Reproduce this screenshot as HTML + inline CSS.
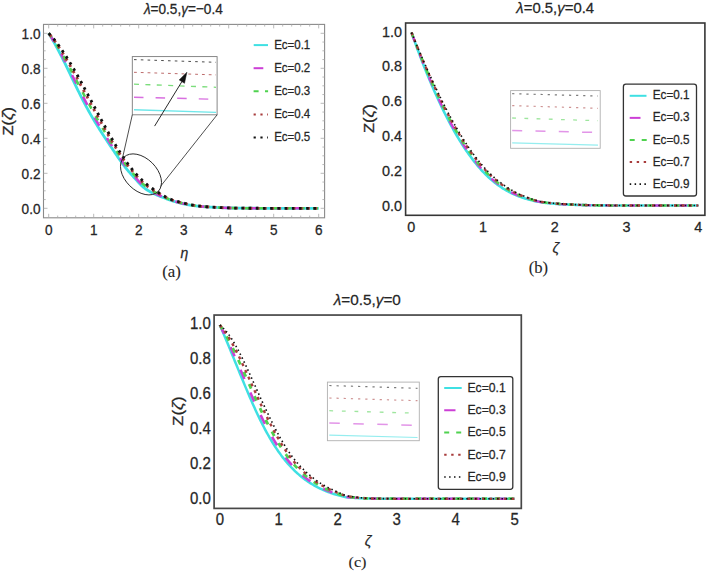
<!DOCTYPE html>
<html><head><meta charset="utf-8"><style>
text{stroke:#262626;stroke-width:0.25px;}
html,body{margin:0;padding:0;background:#fff;width:708px;height:571px;overflow:hidden;position:relative;font-family:"Liberation Sans", sans-serif;}
</style></head><body>
<svg width="708" height="571" viewBox="0 0 708 571" style="position:absolute;left:0;top:0" font-family="Liberation Sans, sans-serif" fill="#262626">
<path d="M48.7,33.3L49.42,34.47L50.14,35.65L50.86,36.85L51.58,38.07L52.3,39.3L53.02,40.56L53.73,41.82L54.45,43.11L55.17,44.41L55.89,45.72L56.61,47.05L57.33,48.39L58.05,49.74L58.77,51.1L59.49,52.49L60.21,53.88L60.93,55.29L61.65,56.7L62.36,58.13L63.08,59.56L63.8,61.01L64.52,62.46L65.24,63.93L65.96,65.41L66.68,66.9L67.4,68.39L68.12,69.88L68.84,71.38L69.56,72.88L70.28,74.38L70.99,75.87L71.71,77.36L72.43,78.86L73.15,80.36L73.87,81.86L74.59,83.36L75.31,84.86L76.03,86.36L76.75,87.85L77.47,89.33L78.19,90.79L78.91,92.24L79.62,93.69L80.34,95.13L81.06,96.56L81.78,97.99L82.5,99.41L83.22,100.82L83.94,102.21L84.66,103.59L85.38,104.96L86.1,106.3L86.82,107.63L87.54,108.95L88.25,110.25L88.97,111.54L89.69,112.82L90.41,114.09L91.13,115.34L91.85,116.59L92.57,117.83L93.29,119.06L94.01,120.27L94.73,121.48L95.45,122.69L96.17,123.88L96.88,125.06L97.6,126.23L98.32,127.38L99.04,128.53L99.76,129.67L100.48,130.8L101.2,131.93L101.92,133.05L102.64,134.17L103.36,135.28L104.08,136.4L104.8,137.5L105.52,138.61L106.23,139.7L106.95,140.79L107.67,141.88L108.39,142.97L109.11,144.05L109.83,145.12L110.55,146.2L111.27,147.27L111.99,148.34L112.71,149.41L113.43,150.49L114.15,151.56L114.86,152.63L115.58,153.7L116.3,154.76L117.02,155.82L117.74,156.88L118.46,157.93L119.18,158.96L119.9,160L120.62,161.01L121.34,162.02L122.06,163.03L122.78,164.02L123.49,165L124.21,165.96L124.93,166.89L125.65,167.8L126.37,168.69L127.09,169.56L127.81,170.42L128.53,171.28L129.25,172.12L129.97,172.95L130.69,173.77L131.41,174.58L132.12,175.38L132.84,176.17L133.56,176.96L134.28,177.74L135,178.52L135.72,179.3L136.44,180.1L137.16,180.89L137.88,181.69L138.6,182.47L139.32,183.25L140.04,184.01L140.75,184.75L141.47,185.47L142.19,186.15L142.91,186.81L143.63,187.42L144.35,187.99L145.07,188.52L145.79,189.03L146.51,189.52L147.23,189.99L147.95,190.44L148.67,190.87L149.38,191.29L150.1,191.7L150.82,192.09L151.54,192.48L152.26,192.85L152.98,193.21L153.7,193.57L154.42,193.91L155.14,194.25L155.86,194.58L156.58,194.9L157.3,195.21L158.02,195.51L158.73,195.8L159.45,196.09L160.17,196.37L160.89,196.65L161.61,196.92L162.33,197.2L163.05,197.47L163.77,197.74L164.49,198.01L165.21,198.28L165.93,198.56L166.65,198.83L167.36,199.1L168.08,199.37L168.8,199.64L169.52,199.9L170.24,200.16L170.96,200.41L171.68,200.66L172.4,200.89L173.12,201.12L173.84,201.34L174.56,201.55L175.28,201.76L175.99,201.96L176.71,202.16L177.43,202.36L178.15,202.56L178.87,202.75L179.59,202.94L180.31,203.12L181.03,203.31L181.75,203.48L182.47,203.66L183.19,203.83L183.91,203.99L184.62,204.14L185.34,204.3L186.06,204.44L186.78,204.58L187.5,204.71L188.22,204.83L188.94,204.95L189.66,205.06L190.38,205.17L191.1,205.27L191.82,205.38L192.54,205.48L193.25,205.58L193.97,205.67L194.69,205.76L195.41,205.86L196.13,205.94L196.85,206.03L197.57,206.11L198.29,206.19L199.01,206.27L199.73,206.35L200.45,206.42L201.17,206.49L201.88,206.56L202.6,206.62L203.32,206.68L204.04,206.74L204.76,206.8L205.48,206.85L206.2,206.9L210.7,207.19L220.52,207.69L230.34,207.98L240.15,208.15L249.97,208.24L259.79,208.28L269.61,208.3L279.43,208.3L289.25,208.3L299.06,208.3L308.88,208.3L318.7,208.3" fill="none" stroke="#3fe0e3" stroke-width="2.8" stroke-linejoin="round"/>
<path d="M48.7,33.3L49.42,34.37L50.14,35.45L50.86,36.55L51.58,37.66L52.3,38.8L53.02,39.95L53.73,41.11L54.45,42.3L55.17,43.49L55.89,44.71L56.61,45.94L57.33,47.18L58.05,48.44L58.77,49.71L59.49,51L60.21,52.3L60.93,53.61L61.65,54.93L62.36,56.26L63.08,57.6L63.8,58.95L64.52,60.32L65.24,61.69L65.96,63.08L66.68,64.48L67.4,65.89L68.12,67.3L68.84,68.72L69.56,70.14L70.28,71.56L70.99,72.98L71.71,74.4L72.43,75.82L73.15,77.25L73.87,78.69L74.59,80.13L75.31,81.57L76.03,83.01L76.75,84.44L77.47,85.87L78.19,87.29L78.91,88.7L79.62,90.1L80.34,91.51L81.06,92.91L81.78,94.31L82.5,95.71L83.22,97.09L83.94,98.47L84.66,99.84L85.38,101.2L86.1,102.54L86.82,103.88L87.54,105.2L88.25,106.51L88.97,107.81L89.69,109.11L90.41,110.4L91.13,111.68L91.85,112.95L92.57,114.22L93.29,115.48L94.01,116.74L94.73,117.98L95.45,119.22L96.17,120.45L96.88,121.68L97.6,122.89L98.32,124.09L99.04,125.29L99.76,126.48L100.48,127.67L101.2,128.84L101.92,130.02L102.64,131.19L103.36,132.35L104.08,133.52L104.8,134.68L105.52,135.84L106.23,136.98L106.95,138.13L107.67,139.27L108.39,140.4L109.11,141.53L109.83,142.66L110.55,143.78L111.27,144.9L111.99,146.01L112.71,147.13L113.43,148.24L114.15,149.35L114.86,150.45L115.58,151.55L116.3,152.65L117.02,153.74L117.74,154.82L118.46,155.9L119.18,156.96L119.9,158.02L120.62,159.07L121.34,160.1L122.06,161.13L122.78,162.15L123.49,163.15L124.21,164.14L124.93,165.1L125.65,166.04L126.37,166.96L127.09,167.87L127.81,168.76L128.53,169.64L129.25,170.51L129.97,171.36L130.69,172.21L131.41,173.04L132.12,173.87L132.84,174.69L133.56,175.5L134.28,176.3L135,177.09L135.72,177.89L136.44,178.68L137.16,179.47L137.88,180.26L138.6,181.04L139.32,181.8L140.04,182.55L140.75,183.29L141.47,184L142.19,184.69L142.91,185.35L143.63,185.97L144.35,186.56L145.07,187.12L145.79,187.65L146.51,188.17L147.23,188.67L147.95,189.15L148.67,189.62L149.38,190.07L150.1,190.51L150.82,190.94L151.54,191.36L152.26,191.76L152.98,192.16L153.7,192.55L154.42,192.93L155.14,193.31L155.86,193.67L156.58,194.03L157.3,194.37L158.02,194.71L158.73,195.04L159.45,195.37L160.17,195.69L160.89,196.01L161.61,196.33L162.33,196.64L163.05,196.96L163.77,197.27L164.49,197.58L165.21,197.88L165.93,198.19L166.65,198.49L167.36,198.79L168.08,199.08L168.8,199.37L169.52,199.64L170.24,199.91L170.96,200.17L171.68,200.42L172.4,200.66L173.12,200.89L173.84,201.11L174.56,201.32L175.28,201.53L175.99,201.73L176.71,201.93L177.43,202.13L178.15,202.33L178.87,202.52L179.59,202.7L180.31,202.89L181.03,203.07L181.75,203.25L182.47,203.43L183.19,203.6L183.91,203.77L184.62,203.93L185.34,204.09L186.06,204.25L186.78,204.4L187.5,204.55L188.22,204.68L188.94,204.81L189.66,204.93L190.38,205.05L191.1,205.16L191.82,205.26L192.54,205.37L193.25,205.47L193.97,205.57L194.69,205.67L195.41,205.77L196.13,205.86L196.85,205.95L197.57,206.03L198.29,206.12L199.01,206.2L199.73,206.28L200.45,206.36L201.17,206.43L201.88,206.5L202.6,206.57L203.32,206.63L204.04,206.69L204.76,206.75L205.48,206.8L206.2,206.86L210.7,207.16L220.52,207.69L230.34,207.98L240.15,208.15L249.97,208.24L259.79,208.28L269.61,208.3L279.43,208.3L289.25,208.3L299.06,208.3L308.88,208.3L318.7,208.3" fill="none" stroke="#cc3fd6" stroke-width="2.6" stroke-dasharray="9.5 14.5" stroke-linejoin="round"/>
<path d="M48.7,33.3L49.42,34.26L50.14,35.25L50.86,36.24L51.58,37.26L52.3,38.29L53.02,39.34L53.73,40.4L54.45,41.48L55.17,42.58L55.89,43.7L56.61,44.83L57.33,45.97L58.05,47.14L58.77,48.31L59.49,49.51L60.21,50.71L60.93,51.93L61.65,53.16L62.36,54.39L63.08,55.64L63.8,56.9L64.52,58.17L65.24,59.46L65.96,60.76L66.68,62.07L67.4,63.39L68.12,64.72L68.84,66.06L69.56,67.4L70.28,68.74L70.99,70.08L71.71,71.43L72.43,72.78L73.15,74.15L73.87,75.52L74.59,76.89L75.31,78.27L76.03,79.65L76.75,81.03L77.47,82.41L78.19,83.78L78.91,85.15L79.62,86.52L80.34,87.89L81.06,89.26L81.78,90.64L82.5,92.01L83.22,93.37L83.94,94.74L84.66,96.09L85.38,97.44L86.1,98.79L86.82,100.12L87.54,101.45L88.25,102.77L88.97,104.08L89.69,105.4L90.41,106.71L91.13,108.02L91.85,109.32L92.57,110.62L93.29,111.91L94.01,113.2L94.73,114.48L95.45,115.75L96.17,117.03L96.88,118.29L97.6,119.55L98.32,120.81L99.04,122.05L99.76,123.29L100.48,124.53L101.2,125.76L101.92,126.98L102.64,128.21L103.36,129.43L104.08,130.65L104.8,131.86L105.52,133.07L106.23,134.27L106.95,135.46L107.67,136.65L108.39,137.83L109.11,139.01L109.83,140.19L110.55,141.36L111.27,142.52L111.99,143.68L112.71,144.84L113.43,145.99L114.15,147.14L114.86,148.28L115.58,149.41L116.3,150.54L117.02,151.66L117.74,152.77L118.46,153.87L119.18,154.96L119.9,156.05L120.62,157.12L121.34,158.19L122.06,159.24L122.78,160.28L123.49,161.31L124.21,162.32L124.93,163.31L125.65,164.28L126.37,165.24L127.09,166.18L127.81,167.1L128.53,168L129.25,168.89L129.97,169.78L130.69,170.65L131.41,171.51L132.12,172.36L132.84,173.21L133.56,174.04L134.28,174.86L135,175.66L135.72,176.47L136.44,177.26L137.16,178.05L137.88,178.83L138.6,179.6L139.32,180.35L140.04,181.1L140.75,181.83L141.47,182.53L142.19,183.22L142.91,183.89L143.63,184.52L144.35,185.13L145.07,185.72L145.79,186.28L146.51,186.83L147.23,187.35L147.95,187.87L148.67,188.37L149.38,188.85L150.1,189.33L150.82,189.79L151.54,190.24L152.26,190.68L152.98,191.11L153.7,191.54L154.42,191.95L155.14,192.36L155.86,192.76L156.58,193.15L157.3,193.53L158.02,193.91L158.73,194.28L159.45,194.64L160.17,195.01L160.89,195.37L161.61,195.73L162.33,196.09L163.05,196.44L163.77,196.79L164.49,197.14L165.21,197.48L165.93,197.82L166.65,198.15L167.36,198.47L168.08,198.79L168.8,199.09L169.52,199.38L170.24,199.66L170.96,199.93L171.68,200.18L172.4,200.42L173.12,200.66L173.84,200.88L174.56,201.09L175.28,201.3L175.99,201.51L176.71,201.71L177.43,201.9L178.15,202.1L178.87,202.29L179.59,202.47L180.31,202.66L181.03,202.84L181.75,203.02L182.47,203.19L183.19,203.37L183.91,203.55L184.62,203.72L185.34,203.89L186.06,204.06L186.78,204.23L187.5,204.38L188.22,204.53L188.94,204.67L189.66,204.8L190.38,204.92L191.1,205.04L191.82,205.15L192.54,205.26L193.25,205.37L193.97,205.47L194.69,205.58L195.41,205.68L196.13,205.77L196.85,205.87L197.57,205.96L198.29,206.04L199.01,206.13L199.73,206.21L200.45,206.29L201.17,206.37L201.88,206.44L202.6,206.51L203.32,206.58L204.04,206.64L204.76,206.7L205.48,206.76L206.2,206.81L210.7,207.13L220.52,207.68L230.34,207.98L240.15,208.15L249.97,208.24L259.79,208.28L269.61,208.3L279.43,208.3L289.25,208.3L299.06,208.3L308.88,208.3L318.7,208.3" fill="none" stroke="#4fd24f" stroke-width="2.6" stroke-dasharray="5 8.6" stroke-linejoin="round"/>
<path d="M48.7,33.3L49.42,34.16L50.14,35.04L50.86,35.94L51.58,36.85L52.3,37.78L53.02,38.73L53.73,39.69L54.45,40.67L55.17,41.67L55.89,42.68L56.61,43.72L57.33,44.77L58.05,45.84L58.77,46.92L59.49,48.01L60.21,49.13L60.93,50.25L61.65,51.38L62.36,52.53L63.08,53.68L63.8,54.84L64.52,56.02L65.24,57.22L65.96,58.43L66.68,59.65L67.4,60.89L68.12,62.14L68.84,63.39L69.56,64.65L70.28,65.92L70.99,67.19L71.71,68.46L72.43,69.74L73.15,71.04L73.87,72.34L74.59,73.66L75.31,74.97L76.03,76.3L76.75,77.62L77.47,78.95L78.19,80.28L78.91,81.6L79.62,82.94L80.34,84.27L81.06,85.62L81.78,86.96L82.5,88.31L83.22,89.65L83.94,91L84.66,92.34L85.38,93.69L86.1,95.03L86.82,96.36L87.54,97.7L88.25,99.03L88.97,100.36L89.69,101.69L90.41,103.02L91.13,104.35L91.85,105.68L92.57,107.01L93.29,108.34L94.01,109.66L94.73,110.97L95.45,112.29L96.17,113.6L96.88,114.91L97.6,116.21L98.32,117.52L99.04,118.81L99.76,120.11L100.48,121.39L101.2,122.68L101.92,123.95L102.64,125.23L103.36,126.5L104.08,127.77L104.8,129.04L105.52,130.3L106.23,131.55L106.95,132.8L107.67,134.04L108.39,135.27L109.11,136.49L109.83,137.72L110.55,138.93L111.27,140.15L111.99,141.35L112.71,142.55L113.43,143.75L114.15,144.93L114.86,146.11L115.58,147.27L116.3,148.43L117.02,149.57L117.74,150.71L118.46,151.84L119.18,152.97L119.9,154.08L120.62,155.18L121.34,156.27L122.06,157.34L122.78,158.41L123.49,159.46L124.21,160.5L124.93,161.52L125.65,162.53L126.37,163.52L127.09,164.49L127.81,165.44L128.53,166.37L129.25,167.28L129.97,168.19L130.69,169.09L131.41,169.98L132.12,170.86L132.84,171.72L133.56,172.57L134.28,173.41L135,174.24L135.72,175.05L136.44,175.85L137.16,176.63L137.88,177.4L138.6,178.16L139.32,178.91L140.04,179.64L140.75,180.36L141.47,181.07L142.19,181.76L142.91,182.43L143.63,183.08L144.35,183.71L145.07,184.31L145.79,184.9L146.51,185.48L147.23,186.04L147.95,186.58L148.67,187.11L149.38,187.63L150.1,188.14L150.82,188.63L151.54,189.12L152.26,189.6L152.98,190.06L153.7,190.52L154.42,190.97L155.14,191.41L155.86,191.85L156.58,192.27L157.3,192.69L158.02,193.11L158.73,193.51L159.45,193.92L160.17,194.33L160.89,194.73L161.61,195.14L162.33,195.54L163.05,195.93L163.77,196.32L164.49,196.71L165.21,197.08L165.93,197.45L166.65,197.81L167.36,198.16L168.08,198.5L168.8,198.82L169.52,199.12L170.24,199.41L170.96,199.68L171.68,199.94L172.4,200.19L173.12,200.42L173.84,200.65L174.56,200.87L175.28,201.08L175.99,201.28L176.71,201.48L177.43,201.68L178.15,201.87L178.87,202.05L179.59,202.24L180.31,202.42L181.03,202.6L181.75,202.78L182.47,202.96L183.19,203.14L183.91,203.32L184.62,203.51L185.34,203.69L186.06,203.87L186.78,204.05L187.5,204.22L188.22,204.38L188.94,204.54L189.66,204.67L190.38,204.8L191.1,204.92L191.82,205.04L192.54,205.15L193.25,205.27L193.97,205.37L194.69,205.48L195.41,205.58L196.13,205.69L196.85,205.78L197.57,205.88L198.29,205.97L199.01,206.06L199.73,206.14L200.45,206.23L201.17,206.31L201.88,206.38L202.6,206.45L203.32,206.52L204.04,206.59L204.76,206.65L205.48,206.71L206.2,206.77L210.7,207.09L220.52,207.67L230.34,207.98L240.15,208.15L249.97,208.24L259.79,208.28L269.61,208.3L279.43,208.3L289.25,208.3L299.06,208.3L308.88,208.3L318.7,208.3" fill="none" stroke="#a83c3c" stroke-width="2.8" stroke-dasharray="2.6 4.6" stroke-dashoffset="-1.6" stroke-linejoin="round"/>
<path d="M48.7,33.3L49.42,34.06L50.14,34.84L50.86,35.63L51.58,36.44L52.3,37.27L53.02,38.12L53.73,38.98L54.45,39.86L55.17,40.76L55.89,41.67L56.61,42.61L57.33,43.56L58.05,44.53L58.77,45.52L59.49,46.52L60.21,47.54L60.93,48.57L61.65,49.61L62.36,50.66L63.08,51.72L63.8,52.79L64.52,53.88L65.24,54.98L65.96,56.1L66.68,57.24L67.4,58.39L68.12,59.55L68.84,60.73L69.56,61.91L70.28,63.1L70.99,64.29L71.71,65.49L72.43,66.71L73.15,67.93L73.87,69.17L74.59,70.42L75.31,71.68L76.03,72.94L76.75,74.21L77.47,75.49L78.19,76.77L78.91,78.06L79.62,79.35L80.34,80.66L81.06,81.97L81.78,83.28L82.5,84.6L83.22,85.93L83.94,87.26L84.66,88.6L85.38,89.93L86.1,91.27L86.82,92.61L87.54,93.95L88.25,95.29L88.97,96.63L89.69,97.98L90.41,99.33L91.13,100.69L91.85,102.05L92.57,103.4L93.29,104.76L94.01,106.12L94.73,107.47L95.45,108.82L96.17,110.17L96.88,111.53L97.6,112.88L98.32,114.23L99.04,115.58L99.76,116.92L100.48,118.26L101.2,119.59L101.92,120.92L102.64,122.25L103.36,123.57L104.08,124.9L104.8,126.21L105.52,127.53L106.23,128.83L106.95,130.13L107.67,131.42L108.39,132.7L109.11,133.98L109.83,135.25L110.55,136.51L111.27,137.77L111.99,139.02L112.71,140.27L113.43,141.5L114.15,142.72L114.86,143.93L115.58,145.13L116.3,146.31L117.02,147.49L117.74,148.66L118.46,149.82L119.18,150.97L119.9,152.1L120.62,153.23L121.34,154.35L122.06,155.45L122.78,156.54L123.49,157.62L124.21,158.68L124.93,159.73L125.65,160.77L126.37,161.79L127.09,162.79L127.81,163.77L128.53,164.73L129.25,165.67L129.97,166.61L130.69,167.53L131.41,168.45L132.12,169.35L132.84,170.24L133.56,171.11L134.28,171.97L135,172.81L135.72,173.63L136.44,174.43L137.16,175.21L137.88,175.97L138.6,176.72L139.32,177.46L140.04,178.19L140.75,178.9L141.47,179.6L142.19,180.29L142.91,180.97L143.63,181.63L144.35,182.28L145.07,182.91L145.79,183.53L146.51,184.13L147.23,184.72L147.95,185.3L148.67,185.86L149.38,186.41L150.1,186.95L150.82,187.48L151.54,188L152.26,188.51L152.98,189.01L153.7,189.51L154.42,189.99L155.14,190.47L155.86,190.94L156.58,191.4L157.3,191.86L158.02,192.31L158.73,192.75L159.45,193.2L160.17,193.65L160.89,194.09L161.61,194.54L162.33,194.98L163.05,195.42L163.77,195.85L164.49,196.27L165.21,196.68L165.93,197.09L166.65,197.47L167.36,197.85L168.08,198.2L168.8,198.54L169.52,198.86L170.24,199.16L170.96,199.44L171.68,199.7L172.4,199.95L173.12,200.19L173.84,200.42L174.56,200.64L175.28,200.85L175.99,201.06L176.71,201.25L177.43,201.45L178.15,201.64L178.87,201.82L179.59,202.01L180.31,202.19L181.03,202.37L181.75,202.55L182.47,202.73L183.19,202.92L183.91,203.1L184.62,203.3L185.34,203.49L186.06,203.68L186.78,203.87L187.5,204.06L188.22,204.23L188.94,204.4L189.66,204.54L190.38,204.68L191.1,204.8L191.82,204.92L192.54,205.04L193.25,205.16L193.97,205.28L194.69,205.39L195.41,205.49L196.13,205.6L196.85,205.7L197.57,205.8L198.29,205.89L199.01,205.99L199.73,206.08L200.45,206.16L201.17,206.24L201.88,206.32L202.6,206.4L203.32,206.47L204.04,206.54L204.76,206.6L205.48,206.67L206.2,206.73L210.7,207.06L220.52,207.66L230.34,207.98L240.15,208.15L249.97,208.24L259.79,208.28L269.61,208.3L279.43,208.3L289.25,208.3L299.06,208.3L308.88,208.3L318.7,208.3" fill="none" stroke="#111" stroke-width="2.8" stroke-dasharray="2.6 4.6" stroke-linejoin="round"/>

<rect x="43.5" y="24.4" width="281.1" height="193.4" fill="none" stroke="#8a8a8a" stroke-width="1.1"/>
<path d="M48.7,217.8v-4M48.7,24.4v4M57.7,217.8v-2.2M57.7,24.4v2.2M66.7,217.8v-2.2M66.7,24.4v2.2M75.7,217.8v-2.2M75.7,24.4v2.2M84.7,217.8v-2.2M84.7,24.4v2.2M93.7,217.8v-4M93.7,24.4v4M102.7,217.8v-2.2M102.7,24.4v2.2M111.7,217.8v-2.2M111.7,24.4v2.2M120.7,217.8v-2.2M120.7,24.4v2.2M129.7,217.8v-2.2M129.7,24.4v2.2M138.7,217.8v-4M138.7,24.4v4M147.7,217.8v-2.2M147.7,24.4v2.2M156.7,217.8v-2.2M156.7,24.4v2.2M165.7,217.8v-2.2M165.7,24.4v2.2M174.7,217.8v-2.2M174.7,24.4v2.2M183.7,217.8v-4M183.7,24.4v4M192.7,217.8v-2.2M192.7,24.4v2.2M201.7,217.8v-2.2M201.7,24.4v2.2M210.7,217.8v-2.2M210.7,24.4v2.2M219.7,217.8v-2.2M219.7,24.4v2.2M228.7,217.8v-4M228.7,24.4v4M237.7,217.8v-2.2M237.7,24.4v2.2M246.7,217.8v-2.2M246.7,24.4v2.2M255.7,217.8v-2.2M255.7,24.4v2.2M264.7,217.8v-2.2M264.7,24.4v2.2M273.7,217.8v-4M273.7,24.4v4M282.7,217.8v-2.2M282.7,24.4v2.2M291.7,217.8v-2.2M291.7,24.4v2.2M300.7,217.8v-2.2M300.7,24.4v2.2M309.7,217.8v-2.2M309.7,24.4v2.2M318.7,217.8v-4M318.7,24.4v4M43.5,208.3h4M324.6,208.3h-4M43.5,199.55h2.2M324.6,199.55h-2.2M43.5,190.8h2.2M324.6,190.8h-2.2M43.5,182.05h2.2M324.6,182.05h-2.2M43.5,173.3h4M324.6,173.3h-4M43.5,164.55h2.2M324.6,164.55h-2.2M43.5,155.8h2.2M324.6,155.8h-2.2M43.5,147.05h2.2M324.6,147.05h-2.2M43.5,138.3h4M324.6,138.3h-4M43.5,129.55h2.2M324.6,129.55h-2.2M43.5,120.8h2.2M324.6,120.8h-2.2M43.5,112.05h2.2M324.6,112.05h-2.2M43.5,103.3h4M324.6,103.3h-4M43.5,94.55h2.2M324.6,94.55h-2.2M43.5,85.8h2.2M324.6,85.8h-2.2M43.5,77.05h2.2M324.6,77.05h-2.2M43.5,68.3h4M324.6,68.3h-4M43.5,59.55h2.2M324.6,59.55h-2.2M43.5,50.8h2.2M324.6,50.8h-2.2M43.5,42.05h2.2M324.6,42.05h-2.2M43.5,33.3h4M324.6,33.3h-4" stroke="#a8a8a8" stroke-width="0.8" fill="none"/>
<text transform="translate(48.7,234.8) scale(1.0,1.14)" font-size="13.6" text-anchor="middle">0</text>
<text transform="translate(93.7,234.8) scale(1.0,1.14)" font-size="13.6" text-anchor="middle">1</text>
<text transform="translate(138.7,234.8) scale(1.0,1.14)" font-size="13.6" text-anchor="middle">2</text>
<text transform="translate(183.7,234.8) scale(1.0,1.14)" font-size="13.6" text-anchor="middle">3</text>
<text transform="translate(228.7,234.8) scale(1.0,1.14)" font-size="13.6" text-anchor="middle">4</text>
<text transform="translate(273.7,234.8) scale(1.0,1.14)" font-size="13.6" text-anchor="middle">5</text>
<text transform="translate(318.7,234.8) scale(1.0,1.14)" font-size="13.6" text-anchor="middle">6</text>
<text transform="translate(40.5,213.6) scale(1.0,1.14)" font-size="13.6" text-anchor="end">0.0</text>
<text transform="translate(40.5,178.6) scale(1.0,1.14)" font-size="13.6" text-anchor="end">0.2</text>
<text transform="translate(40.5,143.6) scale(1.0,1.14)" font-size="13.6" text-anchor="end">0.4</text>
<text transform="translate(40.5,108.6) scale(1.0,1.14)" font-size="13.6" text-anchor="end">0.6</text>
<text transform="translate(40.5,73.6) scale(1.0,1.14)" font-size="13.6" text-anchor="end">0.8</text>
<text transform="translate(40.5,38.6) scale(1.0,1.14)" font-size="13.6" text-anchor="end">1.0</text>
<text transform="translate(12.9,121.3) rotate(-90) scale(1.19,1)" font-size="13.8" text-anchor="middle">Z(<tspan font-style="italic">ζ</tspan>)</text>
<text transform="translate(184.4,257.9) scale(1.0,1.07)" font-size="14" text-anchor="middle"><tspan font-style="italic">η</tspan></text>
<text transform="translate(171.5,276.9) scale(1.0,0.94)" font-size="16.8" text-anchor="middle" font-family="Liberation Serif, serif" style="stroke-width:0.12px">(a)</text>
<text transform="translate(143.9,13.6) scale(1.0,1.13)" font-size="13.6" text-anchor="start"><tspan font-style="italic">λ</tspan>=0.5,<tspan font-style="italic">γ</tspan>=−0.4</text>
<path d="M253.7,45.1H268" stroke="#3fe0e3" stroke-width="2"/>
<text transform="translate(274.2,48.7) scale(1.0,1.12)" font-size="11.5" text-anchor="start">Ec=0.1</text>
<path d="M253.6,68.2H263.3" stroke="#cc3fd6" stroke-width="2"/>
<text transform="translate(274.2,71.8) scale(1.0,1.12)" font-size="11.5" text-anchor="start">Ec=0.2</text>
<path d="M253.6,91.3H268.1" stroke="#4fd24f" stroke-width="2" stroke-dasharray="5 6.4"/>
<text transform="translate(274.2,94.9) scale(1.0,1.12)" font-size="11.5" text-anchor="start">Ec=0.3</text>
<path d="M253.6,114.4H268" stroke="#a83c3c" stroke-width="2" stroke-dasharray="2.2 4.6"/>
<text transform="translate(274.2,118) scale(1.0,1.12)" font-size="11.5" text-anchor="start">Ec=0.4</text>
<path d="M253.6,137.5H268" stroke="#111" stroke-width="2" stroke-dasharray="2.2 4.6"/>
<text transform="translate(274.2,141.1) scale(1.0,1.12)" font-size="11.5" text-anchor="start">Ec=0.5</text>
<rect x="132.3" y="56.6" width="84.8" height="58.2" fill="#fff" stroke="#7a7a7a" stroke-width="0.9"/>
<path d="M134,59.6L216,62.3" stroke="#111" stroke-width="1" opacity="0.75" stroke-dasharray="2.6 4.2"/>
<path d="M134,72.3L216,74.9" stroke="#a83c3c" stroke-width="1" opacity="0.75" stroke-dasharray="2.8 4"/>
<path d="M134,84.1L216,87.3" stroke="#4fd24f" stroke-width="1.3" opacity="0.75" stroke-dasharray="5 6.4"/>
<path d="M134,97.2L216,99.3" stroke="#cc3fd6" stroke-width="1.4" opacity="0.75" stroke-dasharray="9.5 12.1"/>
<path d="M134,109.8L216,112.4" stroke="#3fe0e3" stroke-width="1.4" opacity="0.75"/>
<path d="M154.6,126.1L182,81.4" stroke="#111" stroke-width="0.9"/>
<path d="M186.9,72.2L179.2,79.9L184.5,83.3Z" fill="#111" stroke="#111" stroke-width="0.5" stroke-linejoin="round"/>
<path d="M132.3,114.8L122.6,157.6M217.1,114.8L160.4,186.5" stroke="#222" stroke-width="0.8" fill="none"/>
<ellipse cx="141" cy="174.4" rx="24.2" ry="16" transform="rotate(45 141 174.4)" fill="none" stroke="#222" stroke-width="0.9"/>
<path d="M411.5,32.5L412.65,35.76L413.79,38.99L414.94,42.18L416.08,45.33L417.23,48.43L418.38,51.5L419.52,54.54L420.67,57.56L421.81,60.55L422.96,63.51L424.1,66.43L425.25,69.32L426.4,72.18L427.54,75L428.69,77.78L429.83,80.53L430.98,83.24L432.13,85.92L433.27,88.57L434.42,91.18L435.56,93.76L436.71,96.31L437.86,98.82L439,101.3L440.15,103.75L441.29,106.17L442.44,108.55L443.58,110.9L444.73,113.22L445.88,115.5L447.02,117.74L448.17,119.94L449.31,122.13L450.46,124.28L451.61,126.41L452.75,128.5L453.9,130.55L455.04,132.56L456.19,134.53L457.34,136.48L458.48,138.4L459.63,140.29L460.77,142.15L461.92,143.98L463.07,145.78L464.21,147.54L465.36,149.26L466.5,150.94L467.65,152.59L468.79,154.21L469.94,155.79L471.09,157.35L472.23,158.88L473.38,160.38L474.52,161.86L475.67,163.31L476.82,164.73L477.96,166.11L479.11,167.45L480.25,168.74L481.4,170.02L482.55,171.27L483.69,172.48L484.84,173.65L485.98,174.79L487.13,175.91L488.27,177L489.42,178.07L490.57,179.1L491.71,180.1L492.86,181.04L494,181.96L495.15,182.86L496.3,183.74L497.44,184.6L498.59,185.44L499.73,186.26L500.88,187.05L502.03,187.81L503.17,188.55L504.32,189.25L505.46,189.93L506.61,190.58L507.75,191.21L508.9,191.83L510.05,192.42L511.19,193L512.34,193.56L513.48,194.1L514.63,194.62L515.78,195.11L516.92,195.59L518.07,196.04L519.21,196.47L520.36,196.89L521.51,197.3L522.65,197.69L523.8,198.07L524.94,198.43L526.09,198.78L527.23,199.12L528.38,199.44L529.53,199.75L530.67,200.04L531.82,200.32L532.96,200.59L534.11,200.86L535.26,201.13L536.4,201.38L537.55,201.62L538.69,201.85L539.84,202.06L540.99,202.26L542.13,202.43L543.28,202.59L544.42,202.72L545.57,202.85L546.72,202.98L547.86,203.11L549.01,203.23L550.15,203.34L551.3,203.45L552.44,203.56L553.59,203.67L554.74,203.77L555.88,203.86L557.03,203.95L558.17,204.04L559.32,204.12L560.47,204.2L561.61,204.27L562.76,204.34L563.9,204.41L565.05,204.47L566.2,204.52L567.34,204.57L568.49,204.62L569.63,204.66L570.78,204.7L571.92,204.74L573.07,204.78L574.22,204.82L575.36,204.86L576.51,204.89L577.65,204.93L578.8,204.96L579.95,204.99L581.09,205.02L582.24,205.05L583.38,205.08L584.53,205.11L585.68,205.13L586.82,205.16L587.97,205.18L589.11,205.2L590.26,205.22L591.4,205.24L592.55,205.26L593.7,205.28L594.84,205.29L595.99,205.31L597.13,205.32L598.28,205.33L599.43,205.34L600.57,205.35L601.72,205.36L602.86,205.37L604.01,205.38L605.16,205.39L606.3,205.4L607.45,205.41L608.59,205.42L609.74,205.43L610.88,205.44L612.03,205.45L613.18,205.45L614.32,205.46L615.47,205.47L616.61,205.47L617.76,205.48L618.91,205.48L620.05,205.49L621.2,205.49L622.34,205.49L623.49,205.5L624.64,205.5L625.78,205.5L626.93,205.5L628.07,205.5L629.22,205.5L630.37,205.5L631.51,205.5L632.66,205.5L633.8,205.5L634.95,205.5L636.09,205.5L637.24,205.5L638.39,205.5L639.53,205.5L640.68,205.5L641.82,205.5L642.97,205.5L644.12,205.5L645.26,205.5L646.41,205.5L647.55,205.5L648.7,205.5L649.85,205.5L650.99,205.5L652.14,205.5L653.28,205.5L654.43,205.5L655.57,205.5L656.72,205.5L657.87,205.5L659.01,205.5L660.16,205.5L661.3,205.5L662.45,205.5L669.62,205.5L672.23,205.5L674.83,205.5L677.44,205.5L680.05,205.5L682.66,205.5L685.26,205.5L687.87,205.5L690.48,205.5L693.09,205.5L695.69,205.5L698.3,205.5" fill="none" stroke="#3fe0e3" stroke-width="2.6" stroke-linejoin="round"/>
<path d="M411.5,32.5L412.65,35.64L413.79,38.76L414.94,41.85L416.08,44.89L417.23,47.9L418.38,50.88L419.52,53.84L420.67,56.77L421.81,59.67L422.96,62.55L424.1,65.4L425.25,68.22L426.4,71.01L427.54,73.77L428.69,76.49L429.83,79.19L430.98,81.85L432.13,84.48L433.27,87.09L434.42,89.66L435.56,92.2L436.71,94.71L437.86,97.19L439,99.65L440.15,102.07L441.29,104.46L442.44,106.82L443.58,109.16L444.73,111.46L445.88,113.72L447.02,115.95L448.17,118.15L449.31,120.33L450.46,122.48L451.61,124.6L452.75,126.68L453.9,128.74L455.04,130.75L456.19,132.73L457.34,134.69L458.48,136.62L459.63,138.52L460.77,140.39L461.92,142.23L463.07,144.04L464.21,145.81L465.36,147.55L466.5,149.25L467.65,150.92L468.79,152.56L469.94,154.16L471.09,155.74L472.23,157.29L473.38,158.81L474.52,160.31L475.67,161.78L476.82,163.22L477.96,164.62L479.11,165.97L480.25,167.29L481.4,168.59L482.55,169.86L483.69,171.09L484.84,172.29L485.98,173.45L487.13,174.59L488.27,175.71L489.42,176.8L490.57,177.85L491.71,178.87L492.86,179.85L494,180.8L495.15,181.73L496.3,182.63L497.44,183.52L498.59,184.38L499.73,185.21L500.88,186.03L502.03,186.81L503.17,187.57L504.32,188.31L505.46,189.01L506.61,189.69L507.75,190.35L508.9,191L510.05,191.62L511.19,192.22L512.34,192.81L513.48,193.37L514.63,193.91L515.78,194.44L516.92,194.94L518.07,195.42L519.21,195.88L520.36,196.33L521.51,196.76L522.65,197.17L523.8,197.57L524.94,197.96L526.09,198.33L527.23,198.68L528.38,199.03L529.53,199.36L530.67,199.69L531.82,200L532.96,200.3L534.11,200.6L535.26,200.88L536.4,201.16L537.55,201.42L538.69,201.66L539.84,201.89L540.99,202.09L542.13,202.28L543.28,202.44L544.42,202.58L545.57,202.72L546.72,202.85L547.86,202.98L549.01,203.1L550.15,203.22L551.3,203.33L552.44,203.44L553.59,203.55L554.74,203.65L555.88,203.75L557.03,203.84L558.17,203.93L559.32,204.01L560.47,204.09L561.61,204.16L562.76,204.24L563.9,204.3L565.05,204.36L566.2,204.42L567.34,204.48L568.49,204.53L569.63,204.57L570.78,204.62L571.92,204.66L573.07,204.71L574.22,204.75L575.36,204.79L576.51,204.83L577.65,204.87L578.8,204.91L579.95,204.95L581.09,204.98L582.24,205.01L583.38,205.05L584.53,205.08L585.68,205.11L586.82,205.14L587.97,205.16L589.11,205.19L590.26,205.21L591.4,205.23L592.55,205.25L593.7,205.27L594.84,205.29L595.99,205.31L597.13,205.32L598.28,205.33L599.43,205.34L600.57,205.35L601.72,205.36L602.86,205.37L604.01,205.38L605.16,205.39L606.3,205.4L607.45,205.41L608.59,205.42L609.74,205.43L610.88,205.44L612.03,205.45L613.18,205.45L614.32,205.46L615.47,205.47L616.61,205.47L617.76,205.48L618.91,205.48L620.05,205.49L621.2,205.49L622.34,205.49L623.49,205.5L624.64,205.5L625.78,205.5L626.93,205.5L628.07,205.5L629.22,205.5L630.37,205.5L631.51,205.5L632.66,205.5L633.8,205.5L634.95,205.5L636.09,205.5L637.24,205.5L638.39,205.5L639.53,205.5L640.68,205.5L641.82,205.5L642.97,205.5L644.12,205.5L645.26,205.5L646.41,205.5L647.55,205.5L648.7,205.5L649.85,205.5L650.99,205.5L652.14,205.5L653.28,205.5L654.43,205.5L655.57,205.5L656.72,205.5L657.87,205.5L659.01,205.5L660.16,205.5L661.3,205.5L662.45,205.5L669.62,205.5L672.23,205.5L674.83,205.5L677.44,205.5L680.05,205.5L682.66,205.5L685.26,205.5L687.87,205.5L690.48,205.5L693.09,205.5L695.69,205.5L698.3,205.5" fill="none" stroke="#cc3fd6" stroke-width="2.4" stroke-dasharray="9.5 14.5" stroke-linejoin="round"/>
<path d="M411.5,32.5L412.65,35.53L413.79,38.53L414.94,41.51L416.08,44.46L417.23,47.37L418.38,50.26L419.52,53.13L420.67,55.97L421.81,58.79L422.96,61.59L424.1,64.37L425.25,67.12L426.4,69.84L427.54,72.54L428.69,75.21L429.83,77.85L430.98,80.46L432.13,83.05L433.27,85.6L434.42,88.13L435.56,90.64L436.71,93.12L437.86,95.57L439,97.99L440.15,100.38L441.29,102.75L442.44,105.09L443.58,107.41L444.73,109.69L445.88,111.95L447.02,114.17L448.17,116.36L449.31,118.53L450.46,120.67L451.61,122.78L452.75,124.87L453.9,126.92L455.04,128.95L456.19,130.94L457.34,132.9L458.48,134.84L459.63,136.74L460.77,138.62L461.92,140.47L463.07,142.29L464.21,144.08L465.36,145.84L466.5,147.55L467.65,149.24L468.79,150.91L469.94,152.54L471.09,154.14L472.23,155.7L473.38,157.24L474.52,158.76L475.67,160.24L476.82,161.7L477.96,163.12L479.11,164.5L480.25,165.84L481.4,167.15L482.55,168.44L483.69,169.7L484.84,170.92L485.98,172.12L487.13,173.28L488.27,174.42L489.42,175.52L490.57,176.6L491.71,177.64L492.86,178.65L494,179.63L495.15,180.59L496.3,181.53L497.44,182.44L498.59,183.32L499.73,184.17L500.88,185L502.03,185.81L503.17,186.6L504.32,187.36L505.46,188.1L506.61,188.81L507.75,189.5L508.9,190.17L510.05,190.82L511.19,191.45L512.34,192.05L513.48,192.64L514.63,193.21L515.78,193.76L516.92,194.29L518.07,194.8L519.21,195.29L520.36,195.77L521.51,196.22L522.65,196.66L523.8,197.08L524.94,197.48L526.09,197.87L527.23,198.25L528.38,198.62L529.53,198.98L530.67,199.33L531.82,199.67L532.96,200.01L534.11,200.33L535.26,200.64L536.4,200.93L537.55,201.21L538.69,201.47L539.84,201.71L540.99,201.93L542.13,202.13L543.28,202.29L544.42,202.44L545.57,202.58L546.72,202.72L547.86,202.85L549.01,202.98L550.15,203.1L551.3,203.21L552.44,203.32L553.59,203.43L554.74,203.53L555.88,203.63L557.03,203.72L558.17,203.81L559.32,203.9L560.47,203.98L561.61,204.06L562.76,204.13L563.9,204.2L565.05,204.26L566.2,204.32L567.34,204.38L568.49,204.43L569.63,204.49L570.78,204.54L571.92,204.59L573.07,204.63L574.22,204.68L575.36,204.73L576.51,204.77L577.65,204.82L578.8,204.86L579.95,204.9L581.09,204.94L582.24,204.98L583.38,205.01L584.53,205.05L585.68,205.08L586.82,205.12L587.97,205.15L589.11,205.17L590.26,205.2L591.4,205.23L592.55,205.25L593.7,205.27L594.84,205.29L595.99,205.3L597.13,205.32L598.28,205.33L599.43,205.34L600.57,205.35L601.72,205.36L602.86,205.37L604.01,205.38L605.16,205.39L606.3,205.4L607.45,205.41L608.59,205.42L609.74,205.43L610.88,205.44L612.03,205.45L613.18,205.46L614.32,205.46L615.47,205.47L616.61,205.47L617.76,205.48L618.91,205.48L620.05,205.49L621.2,205.49L622.34,205.5L623.49,205.5L624.64,205.5L625.78,205.5L626.93,205.5L628.07,205.5L629.22,205.5L630.37,205.5L631.51,205.5L632.66,205.5L633.8,205.5L634.95,205.5L636.09,205.5L637.24,205.5L638.39,205.5L639.53,205.5L640.68,205.5L641.82,205.5L642.97,205.5L644.12,205.5L645.26,205.5L646.41,205.5L647.55,205.5L648.7,205.5L649.85,205.5L650.99,205.5L652.14,205.5L653.28,205.5L654.43,205.5L655.57,205.5L656.72,205.5L657.87,205.5L659.01,205.5L660.16,205.5L661.3,205.5L662.45,205.5L669.62,205.5L672.23,205.5L674.83,205.5L677.44,205.5L680.05,205.5L682.66,205.5L685.26,205.5L687.87,205.5L690.48,205.5L693.09,205.5L695.69,205.5L698.3,205.5" fill="none" stroke="#4fd24f" stroke-width="2.6" stroke-dasharray="5 8.2" stroke-linejoin="round"/>
<path d="M411.5,32.5L412.65,35.41L413.79,38.31L414.94,41.18L416.08,44.02L417.23,46.84L418.38,49.64L419.52,52.42L420.67,55.17L421.81,57.91L422.96,60.64L424.1,63.34L425.25,66.02L426.4,68.67L427.54,71.31L428.69,73.92L429.83,76.51L430.98,79.07L432.13,81.61L433.27,84.12L434.42,86.61L435.56,89.08L436.71,91.52L437.86,93.94L439,96.33L440.15,98.7L441.29,101.05L442.44,103.36L443.58,105.66L444.73,107.93L445.88,110.17L447.02,112.38L448.17,114.57L449.31,116.74L450.46,118.87L451.61,120.97L452.75,123.05L453.9,125.11L455.04,127.14L456.19,129.14L457.34,131.11L458.48,133.06L459.63,134.97L460.77,136.86L461.92,138.72L463.07,140.55L464.21,142.35L465.36,144.12L466.5,145.86L467.65,147.57L468.79,149.26L469.94,150.91L471.09,152.53L472.23,154.11L473.38,155.67L474.52,157.2L475.67,158.71L476.82,160.19L477.96,161.63L479.11,163.02L480.25,164.38L481.4,165.72L482.55,167.03L483.69,168.31L484.84,169.56L485.98,170.78L487.13,171.97L488.27,173.12L489.42,174.25L490.57,175.35L491.71,176.42L492.86,177.46L494,178.47L495.15,179.46L496.3,180.42L497.44,181.36L498.59,182.26L499.73,183.13L500.88,183.98L502.03,184.82L503.17,185.63L504.32,186.42L505.46,187.18L506.61,187.92L507.75,188.65L508.9,189.34L510.05,190.02L511.19,190.67L512.34,191.3L513.48,191.91L514.63,192.5L515.78,193.08L516.92,193.64L518.07,194.18L519.21,194.7L520.36,195.2L521.51,195.69L522.65,196.15L523.8,196.59L524.94,197L526.09,197.41L527.23,197.82L528.38,198.21L529.53,198.6L530.67,198.98L531.82,199.35L532.96,199.71L534.11,200.06L535.26,200.39L536.4,200.71L537.55,201.01L538.69,201.28L539.84,201.54L540.99,201.77L542.13,201.97L543.28,202.15L544.42,202.3L545.57,202.45L546.72,202.59L547.86,202.72L549.01,202.85L550.15,202.97L551.3,203.09L552.44,203.21L553.59,203.31L554.74,203.42L555.88,203.52L557.03,203.61L558.17,203.7L559.32,203.79L560.47,203.87L561.61,203.95L562.76,204.02L563.9,204.09L565.05,204.16L566.2,204.22L567.34,204.28L568.49,204.34L569.63,204.4L570.78,204.45L571.92,204.51L573.07,204.56L574.22,204.61L575.36,204.66L576.51,204.71L577.65,204.76L578.8,204.81L579.95,204.85L581.09,204.9L582.24,204.94L583.38,204.98L584.53,205.02L585.68,205.06L586.82,205.09L587.97,205.13L589.11,205.16L590.26,205.19L591.4,205.22L592.55,205.24L593.7,205.27L594.84,205.29L595.99,205.3L597.13,205.32L598.28,205.33L599.43,205.34L600.57,205.35L601.72,205.36L602.86,205.38L604.01,205.39L605.16,205.4L606.3,205.41L607.45,205.41L608.59,205.42L609.74,205.43L610.88,205.44L612.03,205.45L613.18,205.46L614.32,205.46L615.47,205.47L616.61,205.47L617.76,205.48L618.91,205.48L620.05,205.49L621.2,205.49L622.34,205.5L623.49,205.5L624.64,205.5L625.78,205.5L626.93,205.5L628.07,205.5L629.22,205.5L630.37,205.5L631.51,205.5L632.66,205.5L633.8,205.5L634.95,205.5L636.09,205.5L637.24,205.5L638.39,205.5L639.53,205.5L640.68,205.5L641.82,205.5L642.97,205.5L644.12,205.5L645.26,205.5L646.41,205.5L647.55,205.5L648.7,205.5L649.85,205.5L650.99,205.5L652.14,205.5L653.28,205.5L654.43,205.5L655.57,205.5L656.72,205.5L657.87,205.5L659.01,205.5L660.16,205.5L661.3,205.5L662.45,205.5L669.62,205.5L672.23,205.5L674.83,205.5L677.44,205.5L680.05,205.5L682.66,205.5L685.26,205.5L687.87,205.5L690.48,205.5L693.09,205.5L695.69,205.5L698.3,205.5" fill="none" stroke="#a83c3c" stroke-width="2.4" stroke-dasharray="3 4.4" stroke-linejoin="round"/>
<path d="M411.5,32.5L412.65,35.3L413.79,38.08L414.94,40.84L416.08,43.59L417.23,46.32L418.38,49.02L419.52,51.71L420.67,54.38L421.81,57.04L422.96,59.68L424.1,62.3L425.25,64.91L426.4,67.51L427.54,70.08L428.69,72.64L429.83,75.17L430.98,77.68L432.13,80.17L433.27,82.64L434.42,85.09L435.56,87.52L436.71,89.93L437.86,92.31L439,94.68L440.15,97.02L441.29,99.34L442.44,101.64L443.58,103.91L444.73,106.16L445.88,108.39L447.02,110.6L448.17,112.78L449.31,114.94L450.46,117.07L451.61,119.16L452.75,121.24L453.9,123.3L455.04,125.33L456.19,127.34L457.34,129.32L458.48,131.27L459.63,133.2L460.77,135.09L461.92,136.97L463.07,138.81L464.21,140.63L465.36,142.41L466.5,144.17L467.65,145.9L468.79,147.61L469.94,149.28L471.09,150.92L472.23,152.52L473.38,154.1L474.52,155.65L475.67,157.18L476.82,158.67L477.96,160.13L479.11,161.55L480.25,162.93L481.4,164.29L482.55,165.62L483.69,166.92L484.84,168.2L485.98,169.44L487.13,170.65L488.27,171.83L489.42,172.97L490.57,174.09L491.71,175.19L492.86,176.26L494,177.31L495.15,178.33L496.3,179.32L497.44,180.27L498.59,181.2L499.73,182.09L500.88,182.96L502.03,183.82L503.17,184.65L504.32,185.47L505.46,186.27L506.61,187.04L507.75,187.79L508.9,188.52L510.05,189.22L511.19,189.89L512.34,190.54L513.48,191.18L514.63,191.8L515.78,192.4L516.92,192.99L518.07,193.56L519.21,194.11L520.36,194.64L521.51,195.15L522.65,195.63L523.8,196.09L524.94,196.53L526.09,196.96L527.23,197.38L528.38,197.81L529.53,198.22L530.67,198.63L531.82,199.03L532.96,199.42L534.11,199.79L535.26,200.15L536.4,200.48L537.55,200.8L538.69,201.09L539.84,201.36L540.99,201.6L542.13,201.82L543.28,202L544.42,202.16L545.57,202.31L546.72,202.45L547.86,202.59L549.01,202.72L550.15,202.85L551.3,202.97L552.44,203.09L553.59,203.2L554.74,203.3L555.88,203.4L557.03,203.5L558.17,203.59L559.32,203.68L560.47,203.76L561.61,203.84L562.76,203.91L563.9,203.99L565.05,204.06L566.2,204.12L567.34,204.19L568.49,204.25L569.63,204.31L570.78,204.37L571.92,204.43L573.07,204.48L574.22,204.54L575.36,204.6L576.51,204.65L577.65,204.7L578.8,204.76L579.95,204.81L581.09,204.86L582.24,204.9L583.38,204.95L584.53,204.99L585.68,205.03L586.82,205.07L587.97,205.11L589.11,205.15L590.26,205.18L591.4,205.21L592.55,205.24L593.7,205.26L594.84,205.28L595.99,205.3L597.13,205.32L598.28,205.33L599.43,205.34L600.57,205.35L601.72,205.36L602.86,205.38L604.01,205.39L605.16,205.4L606.3,205.41L607.45,205.42L608.59,205.42L609.74,205.43L610.88,205.44L612.03,205.45L613.18,205.46L614.32,205.46L615.47,205.47L616.61,205.48L617.76,205.48L618.91,205.48L620.05,205.49L621.2,205.49L622.34,205.5L623.49,205.5L624.64,205.5L625.78,205.5L626.93,205.5L628.07,205.5L629.22,205.5L630.37,205.5L631.51,205.5L632.66,205.5L633.8,205.5L634.95,205.5L636.09,205.5L637.24,205.5L638.39,205.5L639.53,205.5L640.68,205.5L641.82,205.5L642.97,205.5L644.12,205.5L645.26,205.5L646.41,205.5L647.55,205.5L648.7,205.5L649.85,205.5L650.99,205.5L652.14,205.5L653.28,205.5L654.43,205.5L655.57,205.5L656.72,205.5L657.87,205.5L659.01,205.5L660.16,205.5L661.3,205.5L662.45,205.5L669.62,205.5L672.23,205.5L674.83,205.5L677.44,205.5L680.05,205.5L682.66,205.5L685.26,205.5L687.87,205.5L690.48,205.5L693.09,205.5L695.69,205.5L698.3,205.5" fill="none" stroke="#111" stroke-width="1.6" stroke-dasharray="1.5 2.9" stroke-linejoin="round"/>

<rect x="405.6" y="23" width="299.3" height="192.3" fill="none" stroke="#363636" stroke-width="1.6"/>
<text transform="translate(411.3,231.8) scale(1.0,1.01)" font-size="14.4" text-anchor="middle">0</text>
<text transform="translate(483.02,231.8) scale(1.0,1.01)" font-size="14.4" text-anchor="middle">1</text>
<text transform="translate(554.74,231.8) scale(1.0,1.01)" font-size="14.4" text-anchor="middle">2</text>
<text transform="translate(626.46,231.8) scale(1.0,1.01)" font-size="14.4" text-anchor="middle">3</text>
<text transform="translate(698.18,231.8) scale(1.0,1.01)" font-size="14.4" text-anchor="middle">4</text>
<text transform="translate(402.1,210.5) scale(1.0,1.01)" font-size="14.4" text-anchor="end">0.0</text>
<text transform="translate(402.1,175.74) scale(1.0,1.01)" font-size="14.4" text-anchor="end">0.2</text>
<text transform="translate(402.1,140.98) scale(1.0,1.01)" font-size="14.4" text-anchor="end">0.4</text>
<text transform="translate(402.1,106.22) scale(1.0,1.01)" font-size="14.4" text-anchor="end">0.6</text>
<text transform="translate(402.1,71.46) scale(1.0,1.01)" font-size="14.4" text-anchor="end">0.8</text>
<text transform="translate(402.1,36.7) scale(1.0,1.01)" font-size="14.4" text-anchor="end">1.0</text>
<text transform="translate(374.25,118.65) rotate(-90) scale(1.145,1)" font-size="14.5" text-anchor="middle">Z(<tspan font-style="italic">ζ</tspan>)</text>
<text transform="translate(555.85,252.7)" font-size="14.5" text-anchor="middle"><tspan font-style="italic">ζ</tspan></text>
<text transform="translate(538.45,272.9) scale(1.0,0.95)" font-size="16.6" text-anchor="middle" font-family="Liberation Serif, serif" style="stroke-width:0.12px">(b)</text>
<text transform="translate(516.35,12.95) scale(1.0,1.01)" font-size="14.9" text-anchor="start"><tspan font-style="italic">λ</tspan>=0.5,<tspan font-style="italic">γ</tspan>=0.4</text>
<rect x="510.6" y="90.6" width="89.6" height="57.7" fill="#fff" stroke="#b0b0b0" stroke-width="0.9"/>
<path d="M512.2,93.7L598,96" stroke="#111" stroke-width="1.2" opacity="0.55" stroke-dasharray="2.2 4.9"/>
<path d="M512.2,105.6L598,108.3" stroke="#a83c3c" stroke-width="1.2" opacity="0.55" stroke-dasharray="2.2 4.9"/>
<path d="M512.2,118L598,120.7" stroke="#4fd24f" stroke-width="1.3" opacity="0.55" stroke-dasharray="3.8 8.4"/>
<path d="M512.2,130.5L598,132.5" stroke="#cc3fd6" stroke-width="1.5" opacity="0.55" stroke-dasharray="10 13.3"/>
<path d="M512.2,142.9L598,145.2" stroke="#3fe0e3" stroke-width="1.2" opacity="0.55"/>
<rect x="623.4" y="84.2" width="73.1" height="111.8" rx="2.5" fill="#fff" stroke="#333" stroke-width="1.3"/>
<path d="M629.7,95.8H646.5" stroke="#3fe0e3" stroke-width="2"/>
<text transform="translate(652.8,99.4) scale(1.0,1.1)" font-size="11.7" text-anchor="start">Ec=0.1</text>
<path d="M629.7,117.88H640.5" stroke="#cc3fd6" stroke-width="2"/>
<text transform="translate(652.8,121.48) scale(1.0,1.1)" font-size="11.7" text-anchor="start">Ec=0.3</text>
<path d="M629.7,139.96H647" stroke="#4fd24f" stroke-width="2" stroke-dasharray="5 7"/>
<text transform="translate(652.8,143.56) scale(1.0,1.1)" font-size="11.7" text-anchor="start">Ec=0.5</text>
<path d="M629.7,162.04H647" stroke="#a83c3c" stroke-width="2" stroke-dasharray="2.4 4.6"/>
<text transform="translate(652.8,165.64) scale(1.0,1.1)" font-size="11.7" text-anchor="start">Ec=0.7</text>
<path d="M629.7,184.12H647" stroke="#111" stroke-width="1.6" stroke-dasharray="1.5 3.4"/>
<text transform="translate(652.8,187.72) scale(1.0,1.1)" font-size="11.7" text-anchor="start">Ec=0.9</text>
<path d="M219.8,325L220.74,327.18L221.68,329.36L222.63,331.57L223.57,333.79L224.51,336.02L225.45,338.27L226.39,340.53L227.34,342.8L228.28,345.07L229.22,347.35L230.16,349.64L231.11,351.93L232.05,354.24L232.99,356.55L233.93,358.86L234.87,361.16L235.82,363.47L236.76,365.78L237.7,368.1L238.64,370.4L239.58,372.71L240.53,375L241.47,377.28L242.41,379.56L243.35,381.84L244.3,384.11L245.24,386.36L246.18,388.61L247.12,390.84L248.06,393.05L249.01,395.25L249.95,397.44L250.89,399.6L251.83,401.76L252.77,403.89L253.72,406.01L254.66,408.11L255.6,410.18L256.54,412.2L257.48,414.22L258.43,416.22L259.37,418.2L260.31,420.16L261.25,422.07L262.2,423.93L263.14,425.75L264.08,427.54L265.02,429.31L265.96,431.06L266.91,432.79L267.85,434.49L268.79,436.16L269.73,437.8L270.67,439.42L271.62,441L272.56,442.55L273.5,444.07L274.44,445.55L275.39,447L276.33,448.42L277.27,449.81L278.21,451.18L279.15,452.52L280.1,453.84L281.04,455.13L281.98,456.39L282.92,457.62L283.86,458.82L284.81,459.99L285.75,461.14L286.69,462.28L287.63,463.38L288.57,464.44L289.52,465.47L290.46,466.48L291.4,467.49L292.34,468.47L293.29,469.44L294.23,470.38L295.17,471.29L296.11,472.18L297.05,473.04L298,473.87L298.94,474.67L299.88,475.47L300.82,476.24L301.76,477.01L302.71,477.75L303.65,478.48L304.59,479.2L305.53,479.89L306.48,480.57L307.42,481.23L308.36,481.87L309.3,482.49L310.24,483.09L311.19,483.67L312.13,484.24L313.07,484.8L314.01,485.34L314.95,485.87L315.9,486.39L316.84,486.89L317.78,487.39L318.72,487.86L319.67,488.33L320.61,488.78L321.55,489.22L322.49,489.64L323.43,490.05L324.38,490.46L325.32,490.85L326.26,491.24L327.2,491.62L328.14,491.99L329.09,492.35L330.03,492.7L330.97,493.04L331.91,493.37L332.85,493.69L333.8,493.99L334.74,494.28L335.68,494.55L336.62,494.82L337.57,495.09L338.51,495.36L339.45,495.63L340.39,495.89L341.33,496.15L342.28,496.39L343.22,496.62L344.16,496.83L345.1,497.02L346.04,497.18L346.99,497.32L347.93,497.43L348.87,497.51L349.81,497.59L350.76,497.66L351.7,497.73L352.64,497.79L353.58,497.86L354.52,497.92L355.47,497.98L356.41,498.03L357.35,498.09L358.29,498.14L359.23,498.19L360.18,498.24L361.12,498.28L362.06,498.32L363,498.36L363.94,498.39L364.89,498.43L365.83,498.46L366.77,498.49L367.71,498.51L368.66,498.54L369.6,498.56L370.54,498.57L371.48,498.59L372.42,498.6L373.37,498.61L374.31,498.62L375.25,498.62L376.19,498.63L377.13,498.63L378.08,498.64L379.02,498.65L379.96,498.65L380.9,498.66L381.85,498.66L382.79,498.67L383.73,498.67L384.67,498.67L385.61,498.68L386.56,498.68L387.5,498.68L388.44,498.69L389.38,498.69L390.32,498.69L391.27,498.69L392.21,498.7L393.15,498.7L394.09,498.7L395.03,498.7L395.98,498.7L396.92,498.7L397.86,498.7L398.8,498.7L399.75,498.7L400.69,498.7L401.63,498.7L402.57,498.7L403.51,498.7L404.46,498.7L405.4,498.7L406.34,498.7L407.28,498.7L408.22,498.7L409.17,498.7L410.11,498.7L411.05,498.7L411.99,498.7L412.94,498.7L413.88,498.7L414.82,498.7L415.76,498.7L416.7,498.7L417.65,498.7L418.59,498.7L419.53,498.7L420.47,498.7L421.41,498.7L422.36,498.7L423.3,498.7L424.24,498.7L425.18,498.7L426.12,498.7L432.02,498.7L439.52,498.7L447.03,498.7L454.53,498.7L462.03,498.7L469.53,498.7L477.04,498.7L484.54,498.7L492.04,498.7L499.54,498.7L507.05,498.7L514.55,498.7" fill="none" stroke="#3fe0e3" stroke-width="2.5" stroke-linejoin="round"/>
<path d="M219.8,325L220.74,326.82L221.68,328.67L222.63,330.55L223.57,332.45L224.51,334.38L225.45,336.33L226.39,338.3L227.34,340.29L228.28,342.3L229.22,344.31L230.16,346.35L231.11,348.42L232.05,350.52L232.99,352.63L233.93,354.77L234.87,356.91L235.82,359.06L236.76,361.22L237.7,363.38L238.64,365.55L239.58,367.73L240.53,369.91L241.47,372.09L242.41,374.28L243.35,376.47L244.3,378.66L245.24,380.85L246.18,383.04L247.12,385.22L248.06,387.39L249.01,389.55L249.95,391.7L250.89,393.85L251.83,395.98L252.77,398.1L253.72,400.21L254.66,402.31L255.6,404.39L256.54,406.44L257.48,408.47L258.43,410.5L259.37,412.5L260.31,414.48L261.25,416.43L262.2,418.35L263.14,420.22L264.08,422.08L265.02,423.91L265.96,425.72L266.91,427.52L267.85,429.29L268.79,431.03L269.73,432.76L270.67,434.45L271.62,436.11L272.56,437.75L273.5,439.35L274.44,440.93L275.39,442.47L276.33,443.99L277.27,445.48L278.21,446.94L279.15,448.37L280.1,449.78L281.04,451.16L281.98,452.52L282.92,453.84L283.86,455.13L284.81,456.4L285.75,457.65L286.69,458.87L287.63,460.05L288.57,461.2L289.52,462.31L290.46,463.41L291.4,464.49L292.34,465.54L293.29,466.58L294.23,467.59L295.17,468.57L296.11,469.52L297.05,470.44L298,471.32L298.94,472.18L299.88,473.03L300.82,473.87L301.76,474.69L302.71,475.49L303.65,476.28L304.59,477.05L305.53,477.8L306.48,478.53L307.42,479.24L308.36,479.93L309.3,480.6L310.24,481.25L311.19,481.88L312.13,482.49L313.07,483.09L314.01,483.68L314.95,484.26L315.9,484.82L316.84,485.36L317.78,485.9L318.72,486.41L319.67,486.92L320.61,487.41L321.55,487.89L322.49,488.35L323.43,488.79L324.38,489.23L325.32,489.66L326.26,490.08L327.2,490.49L328.14,490.89L329.09,491.28L330.03,491.66L330.97,492.03L331.91,492.39L332.85,492.73L333.8,493.07L334.74,493.39L335.68,493.7L336.62,494.01L337.57,494.32L338.51,494.63L339.45,494.94L340.39,495.24L341.33,495.54L342.28,495.82L343.22,496.09L344.16,496.34L345.1,496.57L346.04,496.77L346.99,496.94L347.93,497.07L348.87,497.18L349.81,497.27L350.76,497.36L351.7,497.45L352.64,497.53L353.58,497.61L354.52,497.69L355.47,497.77L356.41,497.84L357.35,497.91L358.29,497.98L359.23,498.04L360.18,498.1L361.12,498.16L362.06,498.21L363,498.26L363.94,498.31L364.89,498.35L365.83,498.39L366.77,498.43L367.71,498.46L368.66,498.49L369.6,498.52L370.54,498.54L371.48,498.56L372.42,498.58L373.37,498.59L374.31,498.59L375.25,498.6L376.19,498.61L377.13,498.62L378.08,498.62L379.02,498.63L379.96,498.63L380.9,498.64L381.85,498.64L382.79,498.65L383.73,498.66L384.67,498.66L385.61,498.66L386.56,498.67L387.5,498.67L388.44,498.68L389.38,498.68L390.32,498.68L391.27,498.69L392.21,498.69L393.15,498.69L394.09,498.69L395.03,498.69L395.98,498.69L396.92,498.7L397.86,498.7L398.8,498.7L399.75,498.7L400.69,498.7L401.63,498.7L402.57,498.7L403.51,498.7L404.46,498.7L405.4,498.7L406.34,498.7L407.28,498.7L408.22,498.7L409.17,498.7L410.11,498.7L411.05,498.7L411.99,498.7L412.94,498.7L413.88,498.7L414.82,498.7L415.76,498.7L416.7,498.7L417.65,498.7L418.59,498.7L419.53,498.7L420.47,498.7L421.41,498.7L422.36,498.7L423.3,498.7L424.24,498.7L425.18,498.7L426.12,498.7L432.02,498.7L439.52,498.7L447.03,498.7L454.53,498.7L462.03,498.7L469.53,498.7L477.04,498.7L484.54,498.7L492.04,498.7L499.54,498.7L507.05,498.7L514.55,498.7" fill="none" stroke="#cc3fd6" stroke-width="2.6" stroke-dasharray="9.9 14.8" stroke-linejoin="round"/>
<path d="M219.8,325L220.74,326.47L221.68,327.98L222.63,329.53L223.57,331.12L224.51,332.74L225.45,334.4L226.39,336.08L227.34,337.79L228.28,339.52L229.22,341.27L230.16,343.06L231.11,344.9L232.05,346.79L232.99,348.72L233.93,350.68L234.87,352.66L235.82,354.65L236.76,356.65L237.7,358.66L238.64,360.69L239.58,362.74L240.53,364.82L241.47,366.91L242.41,369L243.35,371.1L244.3,373.21L245.24,375.34L246.18,377.47L247.12,379.59L248.06,381.72L249.01,383.85L249.95,385.97L250.89,388.09L251.83,390.2L252.77,392.31L253.72,394.42L254.66,396.52L255.6,398.6L256.54,400.67L257.48,402.72L258.43,404.77L259.37,406.8L260.31,408.81L261.25,410.8L262.2,412.76L263.14,414.7L264.08,416.62L265.02,418.51L265.96,420.38L266.91,422.24L267.85,424.09L268.79,425.91L269.73,427.71L270.67,429.48L271.62,431.23L272.56,432.94L273.5,434.64L274.44,436.31L275.39,437.95L276.33,439.56L277.27,441.14L278.21,442.69L279.15,444.22L280.1,445.72L281.04,447.19L281.98,448.64L282.92,450.06L283.86,451.45L284.81,452.82L285.75,454.16L286.69,455.46L287.63,456.73L288.57,457.95L289.52,459.15L290.46,460.33L291.4,461.49L292.34,462.62L293.29,463.72L294.23,464.8L295.17,465.84L296.11,466.86L297.05,467.84L298,468.78L298.94,469.7L299.88,470.6L300.82,471.49L301.76,472.37L302.71,473.23L303.65,474.07L304.59,474.89L305.53,475.7L306.48,476.48L307.42,477.24L308.36,477.99L309.3,478.71L310.24,479.4L311.19,480.08L312.13,480.74L313.07,481.39L314.01,482.02L314.95,482.64L315.9,483.24L316.84,483.83L317.78,484.41L318.72,484.97L319.67,485.51L320.61,486.04L321.55,486.55L322.49,487.05L323.43,487.54L324.38,488.01L325.32,488.47L326.26,488.92L327.2,489.36L328.14,489.79L329.09,490.21L330.03,490.62L330.97,491.02L331.91,491.4L332.85,491.78L333.8,492.15L334.74,492.5L335.68,492.85L336.62,493.19L337.57,493.54L338.51,493.89L339.45,494.25L340.39,494.59L341.33,494.93L342.28,495.26L343.22,495.57L344.16,495.86L345.1,496.12L346.04,496.35L346.99,496.55L347.93,496.71L348.87,496.84L349.81,496.95L350.76,497.06L351.7,497.16L352.64,497.27L353.58,497.37L354.52,497.46L355.47,497.56L356.41,497.65L357.35,497.73L358.29,497.81L359.23,497.89L360.18,497.97L361.12,498.04L362.06,498.1L363,498.17L363.94,498.22L364.89,498.28L365.83,498.33L366.77,498.37L367.71,498.41L368.66,498.45L369.6,498.48L370.54,498.51L371.48,498.53L372.42,498.55L373.37,498.56L374.31,498.57L375.25,498.58L376.19,498.59L377.13,498.6L378.08,498.6L379.02,498.61L379.96,498.62L380.9,498.62L381.85,498.63L382.79,498.63L383.73,498.64L384.67,498.65L385.61,498.65L386.56,498.66L387.5,498.66L388.44,498.66L389.38,498.67L390.32,498.67L391.27,498.68L392.21,498.68L393.15,498.68L394.09,498.68L395.03,498.69L395.98,498.69L396.92,498.69L397.86,498.69L398.8,498.69L399.75,498.69L400.69,498.7L401.63,498.7L402.57,498.7L403.51,498.7L404.46,498.7L405.4,498.7L406.34,498.7L407.28,498.7L408.22,498.7L409.17,498.7L410.11,498.7L411.05,498.7L411.99,498.7L412.94,498.7L413.88,498.7L414.82,498.7L415.76,498.7L416.7,498.7L417.65,498.7L418.59,498.7L419.53,498.7L420.47,498.7L421.41,498.7L422.36,498.7L423.3,498.7L424.24,498.7L425.18,498.7L426.12,498.7L432.02,498.7L439.52,498.7L447.03,498.7L454.53,498.7L462.03,498.7L469.53,498.7L477.04,498.7L484.54,498.7L492.04,498.7L499.54,498.7L507.05,498.7L514.55,498.7" fill="none" stroke="#4fd24f" stroke-width="2.8" stroke-dasharray="5 8.2" stroke-linejoin="round"/>
<path d="M219.8,325L220.74,326.12L221.68,327.29L222.63,328.52L223.57,329.79L224.51,331.1L225.45,332.46L226.39,333.86L227.34,335.28L228.28,336.74L229.22,338.23L230.16,339.77L231.11,341.39L232.05,343.07L232.99,344.81L233.93,346.59L234.87,348.4L235.82,350.24L236.76,352.09L237.7,353.94L238.64,355.83L239.58,357.76L240.53,359.73L241.47,361.72L242.41,363.73L243.35,365.73L244.3,367.77L245.24,369.82L246.18,371.89L247.12,373.97L248.06,376.06L249.01,378.15L249.95,380.24L250.89,382.33L251.83,384.43L252.77,386.52L253.72,388.62L254.66,390.72L255.6,392.82L256.54,394.9L257.48,396.98L258.43,399.04L259.37,401.1L260.31,403.14L261.25,405.17L262.2,407.18L263.14,409.17L264.08,411.15L265.02,413.1L265.96,415.04L266.91,416.97L267.85,418.88L268.79,420.78L269.73,422.66L270.67,424.51L271.62,426.34L272.56,428.14L273.5,429.92L274.44,431.68L275.39,433.42L276.33,435.13L277.27,436.81L278.21,438.45L279.15,440.07L280.1,441.66L281.04,443.23L281.98,444.77L282.92,446.28L283.86,447.77L284.81,449.23L285.75,450.66L286.69,452.06L287.63,453.4L288.57,454.71L289.52,455.99L290.46,457.25L291.4,458.49L292.34,459.69L293.29,460.86L294.23,462L295.17,463.12L296.11,464.2L297.05,465.24L298,466.23L298.94,467.21L299.88,468.17L300.82,469.12L301.76,470.05L302.71,470.96L303.65,471.86L304.59,472.74L305.53,473.6L306.48,474.43L307.42,475.25L308.36,476.04L309.3,476.81L310.24,477.56L311.19,478.28L312.13,478.99L313.07,479.68L314.01,480.36L314.95,481.02L315.9,481.67L316.84,482.3L317.78,482.92L318.72,483.52L319.67,484.1L320.61,484.67L321.55,485.22L322.49,485.76L323.43,486.28L324.38,486.78L325.32,487.28L326.26,487.76L327.2,488.23L328.14,488.69L329.09,489.14L330.03,489.58L330.97,490L331.91,490.42L332.85,490.83L333.8,491.23L334.74,491.61L335.68,492L336.62,492.37L337.57,492.76L338.51,493.16L339.45,493.55L340.39,493.95L341.33,494.33L342.28,494.7L343.22,495.05L344.16,495.37L345.1,495.67L346.04,495.94L346.99,496.17L347.93,496.35L348.87,496.5L349.81,496.63L350.76,496.76L351.7,496.88L352.64,497L353.58,497.12L354.52,497.24L355.47,497.35L356.41,497.45L357.35,497.55L358.29,497.65L359.23,497.74L360.18,497.83L361.12,497.91L362.06,497.99L363,498.07L363.94,498.14L364.89,498.2L365.83,498.26L366.77,498.32L367.71,498.37L368.66,498.41L369.6,498.45L370.54,498.48L371.48,498.51L372.42,498.53L373.37,498.54L374.31,498.55L375.25,498.56L376.19,498.57L377.13,498.58L378.08,498.58L379.02,498.59L379.96,498.6L380.9,498.61L381.85,498.61L382.79,498.62L383.73,498.63L384.67,498.63L385.61,498.64L386.56,498.64L387.5,498.65L388.44,498.65L389.38,498.66L390.32,498.66L391.27,498.67L392.21,498.67L393.15,498.67L394.09,498.68L395.03,498.68L395.98,498.68L396.92,498.69L397.86,498.69L398.8,498.69L399.75,498.69L400.69,498.69L401.63,498.69L402.57,498.7L403.51,498.7L404.46,498.7L405.4,498.7L406.34,498.7L407.28,498.7L408.22,498.7L409.17,498.7L410.11,498.7L411.05,498.7L411.99,498.7L412.94,498.7L413.88,498.7L414.82,498.7L415.76,498.7L416.7,498.7L417.65,498.7L418.59,498.7L419.53,498.7L420.47,498.7L421.41,498.7L422.36,498.7L423.3,498.7L424.24,498.7L425.18,498.7L426.12,498.7L432.02,498.7L439.52,498.7L447.03,498.7L454.53,498.7L462.03,498.7L469.53,498.7L477.04,498.7L484.54,498.7L492.04,498.7L499.54,498.7L507.05,498.7L514.55,498.7" fill="none" stroke="#a83c3c" stroke-width="2.4" stroke-dasharray="3 4.4" stroke-linejoin="round"/>
<path d="M219.8,325L220.74,325.77L221.68,326.6L222.63,327.5L223.57,328.46L224.51,329.47L225.45,330.52L226.39,331.63L227.34,332.78L228.28,333.96L229.22,335.19L230.16,336.48L231.11,337.88L232.05,339.35L232.99,340.9L233.93,342.5L234.87,344.15L235.82,345.83L236.76,347.52L237.7,349.22L238.64,350.97L239.58,352.78L240.53,354.64L241.47,356.54L242.41,358.45L243.35,360.36L244.3,362.32L245.24,364.31L246.18,366.32L247.12,368.35L248.06,370.39L249.01,372.44L249.95,374.51L250.89,376.58L251.83,378.65L252.77,380.73L253.72,382.82L254.66,384.93L255.6,387.03L256.54,389.14L257.48,391.23L258.43,393.31L259.37,395.39L260.31,397.47L261.25,399.54L262.2,401.6L263.14,403.65L264.08,405.69L265.02,407.7L265.96,409.7L266.91,411.7L267.85,413.68L268.79,415.65L269.73,417.61L270.67,419.54L271.62,421.45L272.56,423.34L273.5,425.21L274.44,427.06L275.39,428.89L276.33,430.7L277.27,432.47L278.21,434.21L279.15,435.92L280.1,437.6L281.04,439.26L281.98,440.89L282.92,442.5L283.86,444.08L284.81,445.64L285.75,447.17L286.69,448.65L287.63,450.08L288.57,451.47L289.52,452.84L290.46,454.18L291.4,455.49L292.34,456.76L293.29,458L294.23,459.21L295.17,460.39L296.11,461.54L297.05,462.64L298,463.69L298.94,464.72L299.88,465.74L300.82,466.74L301.76,467.73L302.71,468.7L303.65,469.65L304.59,470.58L305.53,471.5L306.48,472.39L307.42,473.26L308.36,474.1L309.3,474.92L310.24,475.71L311.19,476.48L312.13,477.24L313.07,477.98L314.01,478.7L314.95,479.41L315.9,480.1L316.84,480.77L317.78,481.43L318.72,482.07L319.67,482.69L320.61,483.3L321.55,483.89L322.49,484.47L323.43,485.02L324.38,485.56L325.32,486.09L326.26,486.6L327.2,487.1L328.14,487.59L329.09,488.07L330.03,488.53L330.97,488.99L331.91,489.44L332.85,489.88L333.8,490.31L334.74,490.73L335.68,491.14L336.62,491.56L337.57,491.99L338.51,492.42L339.45,492.86L340.39,493.3L341.33,493.72L342.28,494.13L343.22,494.52L344.16,494.89L345.1,495.22L346.04,495.52L346.99,495.78L347.93,495.99L348.87,496.16L349.81,496.31L350.76,496.46L351.7,496.6L352.64,496.74L353.58,496.88L354.52,497.01L355.47,497.13L356.41,497.26L357.35,497.37L358.29,497.49L359.23,497.59L360.18,497.7L361.12,497.79L362.06,497.89L363,497.97L363.94,498.05L364.89,498.13L365.83,498.2L366.77,498.26L367.71,498.32L368.66,498.37L369.6,498.41L370.54,498.45L371.48,498.48L372.42,498.5L373.37,498.52L374.31,498.53L375.25,498.54L376.19,498.55L377.13,498.56L378.08,498.57L379.02,498.57L379.96,498.58L380.9,498.59L381.85,498.6L382.79,498.6L383.73,498.61L384.67,498.62L385.61,498.62L386.56,498.63L387.5,498.64L388.44,498.64L389.38,498.65L390.32,498.65L391.27,498.66L392.21,498.66L393.15,498.67L394.09,498.67L395.03,498.67L395.98,498.68L396.92,498.68L397.86,498.68L398.8,498.69L399.75,498.69L400.69,498.69L401.63,498.69L402.57,498.69L403.51,498.7L404.46,498.7L405.4,498.7L406.34,498.7L407.28,498.7L408.22,498.7L409.17,498.7L410.11,498.7L411.05,498.7L411.99,498.7L412.94,498.7L413.88,498.7L414.82,498.7L415.76,498.7L416.7,498.7L417.65,498.7L418.59,498.7L419.53,498.7L420.47,498.7L421.41,498.7L422.36,498.7L423.3,498.7L424.24,498.7L425.18,498.7L426.12,498.7L432.02,498.7L439.52,498.7L447.03,498.7L454.53,498.7L462.03,498.7L469.53,498.7L477.04,498.7L484.54,498.7L492.04,498.7L499.54,498.7L507.05,498.7L514.55,498.7" fill="none" stroke="#111" stroke-width="1.6" stroke-dasharray="1.5 2.9" stroke-linejoin="round"/>

<rect x="214.1" y="315.05" width="307.2" height="193.35" fill="none" stroke="#474747" stroke-width="1.7"/>
<text transform="translate(219.8,524.9) scale(1.0,1.06)" font-size="15.0" text-anchor="middle">0</text>
<text transform="translate(278.75,524.9) scale(1.0,1.06)" font-size="15.0" text-anchor="middle">1</text>
<text transform="translate(337.7,524.9) scale(1.0,1.06)" font-size="15.0" text-anchor="middle">2</text>
<text transform="translate(396.65,524.9) scale(1.0,1.06)" font-size="15.0" text-anchor="middle">3</text>
<text transform="translate(455.6,524.9) scale(1.0,1.06)" font-size="15.0" text-anchor="middle">4</text>
<text transform="translate(514.55,524.9) scale(1.0,1.06)" font-size="15.0" text-anchor="middle">5</text>
<text transform="translate(210.8,503.6) scale(1.0,1.05)" font-size="15.0" text-anchor="end">0.0</text>
<text transform="translate(210.8,468.68) scale(1.0,1.05)" font-size="15.0" text-anchor="end">0.2</text>
<text transform="translate(210.8,433.76) scale(1.0,1.05)" font-size="15.0" text-anchor="end">0.4</text>
<text transform="translate(210.8,398.84) scale(1.0,1.05)" font-size="15.0" text-anchor="end">0.6</text>
<text transform="translate(210.8,363.92) scale(1.0,1.05)" font-size="15.0" text-anchor="end">0.8</text>
<text transform="translate(210.8,329) scale(1.0,1.05)" font-size="15.0" text-anchor="end">1.0</text>
<text transform="translate(182.5,411.15) rotate(-90) scale(1.16,1)" font-size="14.6" text-anchor="middle">Z(<tspan font-style="italic">ζ</tspan>)</text>
<text transform="translate(368.05,545.9)" font-size="14.5" text-anchor="middle"><tspan font-style="italic">ζ</tspan></text>
<text transform="translate(357.5,566.5) scale(1.0,0.93)" font-size="16.3" text-anchor="middle" font-family="Liberation Serif, serif" style="stroke-width:0.12px">(c)</text>
<text transform="translate(333.85,304.8) scale(1.0,1.01)" font-size="15.3" text-anchor="start"><tspan font-style="italic">λ</tspan>=0.5,<tspan font-style="italic">γ</tspan>=0</text>
<rect x="327.4" y="382.1" width="91.9" height="58.6" fill="#fff" stroke="#b0b0b0" stroke-width="0.9"/>
<path d="M329.3,385.5L417.5,388.3" stroke="#111" stroke-width="1.2" opacity="0.55" stroke-dasharray="2.2 5"/>
<path d="M329.3,398L417.5,400.7" stroke="#a83c3c" stroke-width="1.2" opacity="0.55" stroke-dasharray="2.2 5"/>
<path d="M329.3,410.7L417.5,413.2" stroke="#4fd24f" stroke-width="1.3" opacity="0.55" stroke-dasharray="3.8 8.8"/>
<path d="M329.3,423.1L417.5,425.3" stroke="#cc3fd6" stroke-width="1.5" opacity="0.55" stroke-dasharray="10.5 13.5"/>
<path d="M329.3,435.2L417.5,437.5" stroke="#3fe0e3" stroke-width="1.2" opacity="0.55"/>
<rect x="438.3" y="376.6" width="74.5" height="112.7" rx="2.5" fill="#fff" stroke="#333" stroke-width="1.3"/>
<path d="M444.2,388H461.7" stroke="#3fe0e3" stroke-width="2"/>
<text transform="translate(467.4,391.8) scale(1.0,1.07)" font-size="12.2" text-anchor="start">Ec=0.1</text>
<path d="M444.2,410.25H455.5" stroke="#cc3fd6" stroke-width="2"/>
<text transform="translate(467.4,414.05) scale(1.0,1.07)" font-size="12.2" text-anchor="start">Ec=0.3</text>
<path d="M444.2,432.5H462" stroke="#4fd24f" stroke-width="2" stroke-dasharray="5 7"/>
<text transform="translate(467.4,436.3) scale(1.0,1.07)" font-size="12.2" text-anchor="start">Ec=0.5</text>
<path d="M444.2,454.75H462" stroke="#a83c3c" stroke-width="2" stroke-dasharray="2.4 4.6"/>
<text transform="translate(467.4,458.55) scale(1.0,1.07)" font-size="12.2" text-anchor="start">Ec=0.7</text>
<path d="M444.2,477H462" stroke="#111" stroke-width="1.6" stroke-dasharray="1.5 3.4"/>
<text transform="translate(467.4,480.8) scale(1.0,1.07)" font-size="12.2" text-anchor="start">Ec=0.9</text>
</svg>
</body></html>
